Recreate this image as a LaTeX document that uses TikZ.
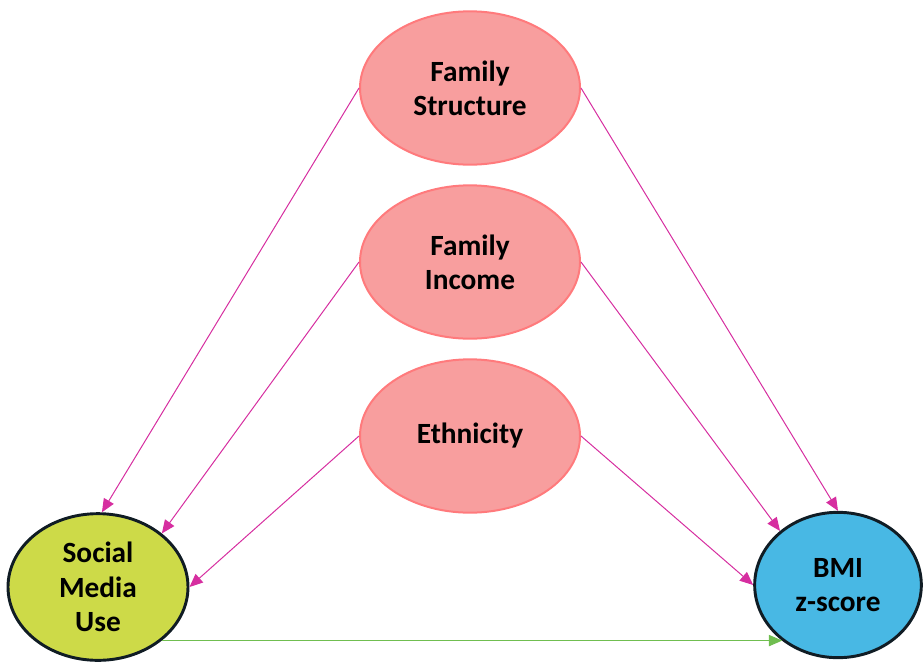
\documentclass[tikz,border=0pt]{standalone}
\usepackage{fontspec}
\setmainfont{Carlito}
\usetikzlibrary{shapes.geometric,arrows.meta}

\definecolor{pinkfill}{RGB}{248,158,158}
\definecolor{pinkline}{RGB}{255,122,124}
\definecolor{limefill}{RGB}{205,218,72}
\definecolor{skyfill}{RGB}{72,184,228}
\definecolor{darkline}{RGB}{16,28,36}
\definecolor{magline}{RGB}{214,46,160}
\definecolor{grnline}{RGB}{112,190,80}

\tikzset{
  factor/.style={ellipse, draw=pinkline, line width=1.5pt, fill=pinkfill,
    minimum width=165pt, minimum height=115pt, inner sep=0pt,
    align=center, font=\fontsize{22}{25.5}\selectfont\bfseries},
  outcome/.style={ellipse, draw=darkline, line width=2.2pt, inner sep=0pt,
    align=center, font=\fontsize{22}{26}\selectfont\bfseries},
  path arrow/.style={draw=magline, line width=0.75pt,
    -{Triangle[length=10pt,width=8.5pt]}, magline},
  main arrow/.style={draw=grnline, line width=0.75pt,
    -{Triangle[length=10pt,width=8.5pt]}, grnline}
}

\begin{document}
\begin{tikzpicture}[x=0.75pt,y=-0.75pt]
  \useasboundingbox (0,0) rectangle (923,664);

  \node[factor] (fs) at (470,88) {Family\\Structure};
  \node[factor] (fi) at (470,262) {Family\\Income};
  \node[factor] (eth) at (470,436) {Ethnicity};

  \node[outcome, fill=limefill, minimum width=135pt, minimum height=110pt] (smu) at (98,587) {Social\\Media\\Use};
  \node[outcome, fill=skyfill, minimum width=125pt, minimum height=109pt] (bmi) at (838,585) {BMI\\z-score};

  \path[path arrow] (fs.west) -- (smu.87);
  \path[path arrow] (fi.west) -- (smu.40);
  \path[path arrow] (eth.west) -- (smu.east);

  \path[path arrow] (fs.east) -- (bmi.north);
  \path[path arrow] (fi.east) -- (bmi.137);
  \path[path arrow] (eth.east) -- (bmi.west);

  \path[main arrow] (smu.-40) -- (bmi.-135 |- smu.-40);
\end{tikzpicture}
\end{document}
